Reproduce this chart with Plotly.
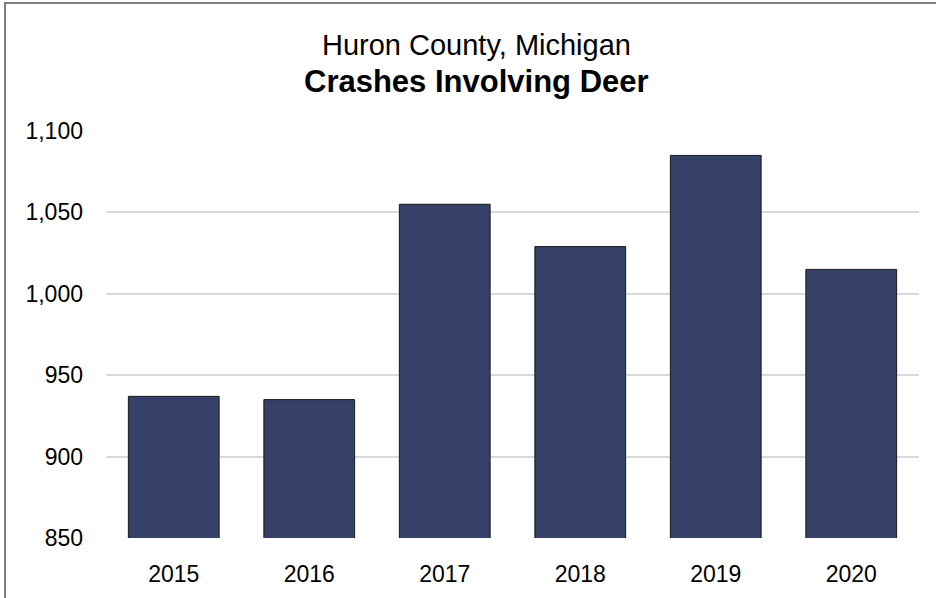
import plotly.graph_objects as go

years = ['2015', '2016', '2017', '2018', '2019', '2020']
crashes = [937, 935, 1055, 1029, 1085, 1015]
y_ticks = [850, 900, 950, 1000, 1050, 1100]

font = 'Liberation Sans, Arial, sans-serif'

fig = go.Figure()
fig.add_trace(go.Bar(x=years, y=crashes, width=0.67,
                     marker=dict(color='#354168', line=dict(color='#1a1a1a', width=1))))

# plot area spans x ~106..919, y 131..538 in pixels
L, R, T, B = 106, 17, 131, 60
W, H = 936, 598
pw, ph = W - L - R, H - T - B

fig.add_annotation(text='Huron County, Michigan', xref='paper', yref='paper',
                   x=(476 - L) / pw, y=(538 - 45) / ph,
                   xanchor='center', yanchor='middle', showarrow=False,
                   font=dict(family=font, size=29, color='#000000'))
fig.add_annotation(text='<b>Crashes Involving Deer</b>', xref='paper', yref='paper',
                   x=(476 - L) / pw, y=(538 - 81) / ph,
                   xanchor='center', yanchor='middle', showarrow=False,
                   font=dict(family=font, size=31, color='#000000'))

# outer chart border
fig.add_shape(type='rect', xref='paper', yref='paper',
              x0=(5 - L) / pw, x1=(945 - L) / pw, y0=(538 - 610) / ph, y1=(538 - 3) / ph,
              line=dict(color='#808080', width=2), fillcolor='rgba(0,0,0,0)', layer='below')

fig.update_layout(
    width=W, height=H, margin=dict(l=L, r=R, t=T, b=B),
    plot_bgcolor='white', paper_bgcolor='white', showlegend=False,
    font=dict(family=font, size=23, color='#000000'),
    xaxis=dict(showgrid=False, showline=False, ticks='', ticklabelstandoff=20),
    yaxis=dict(range=[850, 1100], tickvals=y_ticks, tickformat=',', showgrid=True,
               gridcolor='#d9d9d9', gridwidth=2, zeroline=False, showline=False,
               ticks='', ticklabelstandoff=22),
)

fig.write_html("out.html", config={'displayModeBar': False},
               post_script="document.body.style.margin='0';")
